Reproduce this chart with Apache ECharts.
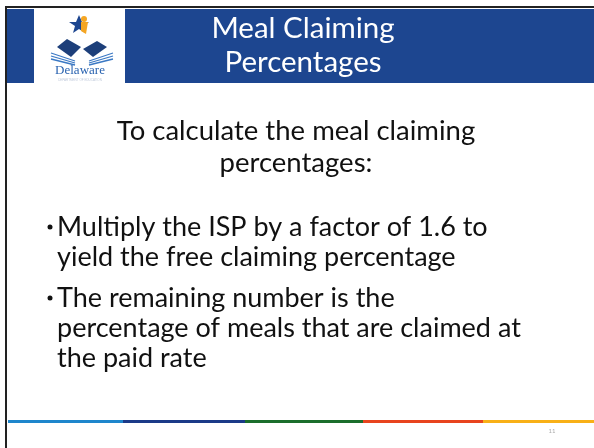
<!DOCTYPE html>
<html>
<head>
<meta charset="utf-8">
<script src="https://cdn.jsdelivr.net/npm/echarts@6/dist/echarts.min.js"></script>
<style>
  html, body { margin: 0; padding: 0; background: #fff; }
  #chart-container { width: 594px; height: 448px; }
</style>
</head>
<body>
<div id="chart-container"></div>
<script>
// slide text
const titleLines = ['Meal Claiming', 'Percentages'];
const introLines = ['To calculate the meal claiming', 'percentages:'];
const bullets = [
  ['Multiply the ISP by a factor of 1.6 to', 'yield the free claiming percentage'],
  ['The remaining number is the', 'percentage of meals that are claimed at', 'the paid rate']
];
const footerColors = ['#1e86cc', '#1b3a88', '#1b6e2c', '#e8441e', '#f8b017'];
const pageNumber = '11';

const font = 'Lato';
const elements = [];

// frame
elements.push({ type: 'rect', shape: { x: 6, y: 7, width: 600, height: 450 },
  style: { fill: '#fff', stroke: '#222', lineWidth: 2 } });
// header band
elements.push({ type: 'rect', shape: { x: 7, y: 9, width: 587, height: 74 },
  style: { fill: '#1d4690' } });
// logo box
elements.push({ type: 'rect', shape: { x: 34, y: 9, width: 91, height: 75 },
  style: { fill: '#fff' } });
// star
elements.push({ type: 'polygon', shape: { points: [[79,15],[82,22],[89,22],[83,26],[85,33],[79,29],[73,33],[75,26],[69,22],[76,22]] },
  style: { fill: '#1d4690' } });
elements.push({ type: 'circle', shape: { cx: 84, cy: 19, r: 3 }, style: { fill: '#f5a623' } });
elements.push({ type: 'polygon', shape: { points: [[81,22],[88,22],[86,34],[81,31]] }, style: { fill: '#f5a623' } });
// books
elements.push({ type: 'polygon', shape: { points: [[57,47],[67,39],[81,47],[71,57]] }, style: { fill: '#1d3f7a' } });
elements.push({ type: 'polygon', shape: { points: [[83,49],[97,41],[107,47],[93,57]] }, style: { fill: '#1d3f7a' } });
[0, 1, 2].forEach(i => {
  elements.push({ type: 'line', shape: { x1: 51, y1: 53 + i * 3, x2: 75, y2: 61 + i * 2 }, style: { stroke: '#3a78c4', lineWidth: 1.3 } });
  elements.push({ type: 'line', shape: { x1: 89, y1: 61 + i * 2, x2: 113, y2: 53 + i * 3 }, style: { stroke: '#3a78c4', lineWidth: 1.3 } });
});
elements.push({ type: 'text', style: { text: 'Delaware', x: 80, y: 71, align: 'center', verticalAlign: 'middle',
  fill: '#2a63b0', font: '13px "Liberation Serif"' } });
elements.push({ type: 'text', style: { text: 'DEPARTMENT OF EDUCATION', x: 80, y: 80, align: 'center', verticalAlign: 'middle',
  fill: '#c0cadb', font: '3px "Liberation Sans"' } });

// title
titleLines.forEach((t, i) => {
  elements.push({ type: 'text', style: { text: t, x: 303, y: 28 + i * 34, align: 'center', verticalAlign: 'middle',
    fill: '#fff', font: '29.5px ' + font } });
});

// intro
introLines.forEach((t, i) => {
  elements.push({ type: 'text', style: { text: t, x: 296, y: 131 + i * 32, align: 'center', verticalAlign: 'middle',
    fill: '#111', font: '27.5px ' + font } });
});

// bullets
let y = 227;
bullets.forEach(b => {
  elements.push({ type: 'circle', shape: { cx: 50, cy: y, r: 2.5 }, style: { fill: '#111' } });
  b.forEach((t, j) => {
    elements.push({ type: 'text', style: { text: t, x: 57, y: y, align: 'left', verticalAlign: 'middle',
      fill: '#111', font: '27px ' + font } });
    y += 30;
  });
  y += 11;
});

// footer stripe
const segEdges = [8, 123, 245, 363, 483, 594];
footerColors.forEach((c, i) => {
  elements.push({ type: 'rect', shape: { x: segEdges[i], y: 420, width: segEdges[i + 1] - segEdges[i], height: 3 },
    style: { fill: c } });
});
elements.push({ type: 'text', style: { text: pageNumber, x: 552, y: 431, align: 'center', verticalAlign: 'middle',
  fill: '#aaa', font: '6px ' + font } });

const myChart = echarts.init(document.getElementById('chart-container'));
myChart.setOption({ animation: false, graphic: { elements: elements } });
</script>
</body>
</html>
